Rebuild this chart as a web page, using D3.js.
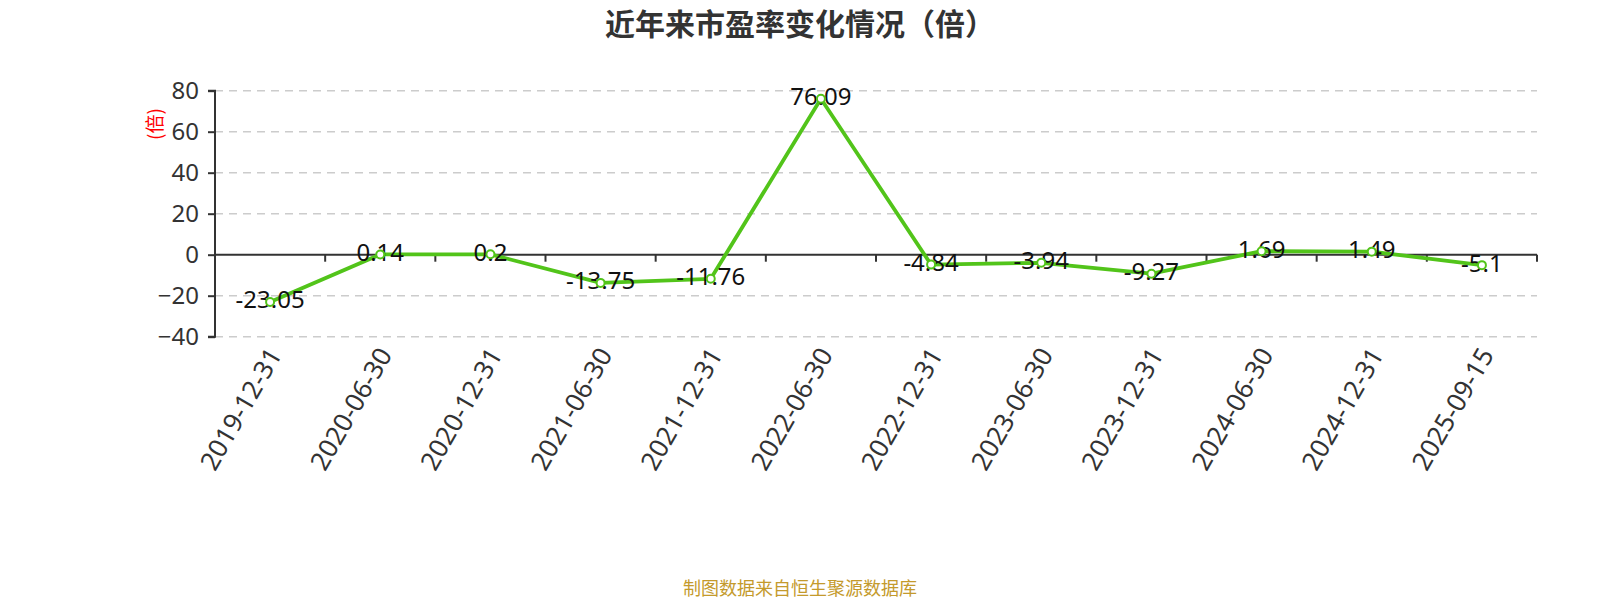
<!DOCTYPE html>
<html><head><meta charset="utf-8">
<script src="https://cdn.jsdelivr.net/npm/d3@7"></script>
<style>body{margin:0;background:#fff;}svg{display:block;font-family:"Noto Sans","Noto Sans CJK SC",sans-serif;}</style>
</head><body>
<svg id="chart" width="1600" height="600"></svg>
<script>
const categories = ["2019-12-31","2020-06-30","2020-12-31","2021-06-30","2021-12-31","2022-06-30","2022-12-31","2023-06-30","2023-12-31","2024-06-30","2024-12-31","2025-09-15"];
const peValues = [-23.05, 0.14, 0.2, -13.75, -11.76, 76.09, -4.84, -3.94, -9.27, 1.69, 1.49, -5.1];
const yTicks = [-40, -20, 0, 20, 40, 60, 80];
const titleText = "近年来市盈率变化情况（倍）";
const unitText = "(倍)";
const sourceText = "制图数据来自恒生聚源数据库";

(function () {
const svg = d3.select("#chart");
const pLeft = 215, pRight = 1537, pTop = 90.7, pBottom = 336.7;
const x = d3.scaleBand().domain(categories).range([pLeft, pRight]);
const y = d3.scaleLinear().domain([-40, 80]).range([pBottom, pTop]);
const green = "#52c41a";

svg.append("text").attr("x", 800).attr("y", 22).attr("text-anchor", "middle").attr("dominant-baseline", "central")
  .attr("font-size", 30).attr("font-weight", "bold").attr("fill", "#333")
  .style("font-family", "'Noto Sans CJK SC',sans-serif").text(titleText);

// grid
svg.append("g").selectAll("line").data(yTicks.filter(d => d !== 0)).join("line")
  .attr("x1", pLeft).attr("x2", pRight).attr("y1", d => y(d)).attr("y2", d => y(d))
  .attr("stroke", "#ccc").attr("stroke-width", 1.5).attr("stroke-dasharray", "8,6");

// y axis
const ya = svg.append("g").attr("transform", `translate(${pLeft},0)`)
  .call(d3.axisLeft(y).tickValues(yTicks).tickSize(7).tickPadding(9).tickFormat(d3.format("d")));
ya.select(".domain").attr("stroke", "#333").attr("stroke-width", 2).attr("d", `M-7,${pTop}H0V${pBottom}H-7`);
ya.selectAll(".tick line").attr("stroke", "#333").attr("stroke-width", 2);
ya.selectAll(".tick text").attr("font-size", 24).attr("fill", "#333").style("font-family", "'Noto Sans',sans-serif");

// x axis at zero
const xa = svg.append("g").attr("transform", `translate(0,${y(0)})`);
xa.append("line").attr("x1", pLeft).attr("x2", pRight).attr("y1", 0).attr("y2", 0).attr("stroke", "#333").attr("stroke-width", 2);
xa.selectAll("line.t").data(categories).join("line").attr("class", "t")
  .attr("x1", d => x(d) + x.bandwidth()).attr("x2", d => x(d) + x.bandwidth())
  .attr("y1", 0).attr("y2", 7).attr("stroke", "#333").attr("stroke-width", 2);

// x labels
svg.append("g").selectAll("text").data(categories).join("text")
  .attr("transform", d => `translate(${x(d) + x.bandwidth() / 2 + 4},${pBottom + 13}) rotate(-60)`)
  .attr("text-anchor", "end").attr("dominant-baseline", "central")
  .attr("font-size", 26).attr("fill", "#333").text(d => d);

// unit label
svg.append("text").attr("transform", `translate(153,124) rotate(-90)`).attr("text-anchor", "middle")
  .attr("dominant-baseline", "central").attr("font-size", 19).attr("fill", "red")
  .style("font-family", "'Noto Sans CJK SC',sans-serif").text(unitText);

// line
const pts = categories.map((c, i) => [x(c) + x.bandwidth() / 2, y(peValues[i])]);
svg.append("path").attr("d", d3.line()(pts)).attr("fill", "none").attr("stroke", green).attr("stroke-width", 3.8).attr("stroke-linejoin", "round");

// labels
svg.append("g").selectAll("text").data(peValues).join("text")
  .attr("x", (d, i) => pts[i][0]).attr("y", (d, i) => pts[i][1] - 3)
  .attr("text-anchor", "middle").attr("dominant-baseline", "central")
  .attr("font-size", 24).attr("fill", "#111").text(d => d);

// markers
svg.append("g").selectAll("circle").data(pts).join("circle")
  .attr("cx", d => d[0]).attr("cy", d => d[1]).attr("r", 4)
  .attr("fill", "#fff").attr("stroke", green).attr("stroke-width", 2);

// source
svg.append("text").attr("x", 800).attr("y", 587).attr("text-anchor", "middle").attr("dominant-baseline", "central")
  .attr("font-size", 18).attr("fill", "#c49a2c").style("font-family", "'Noto Sans CJK SC',sans-serif").text(sourceText);
})();
</script>
</body></html>
